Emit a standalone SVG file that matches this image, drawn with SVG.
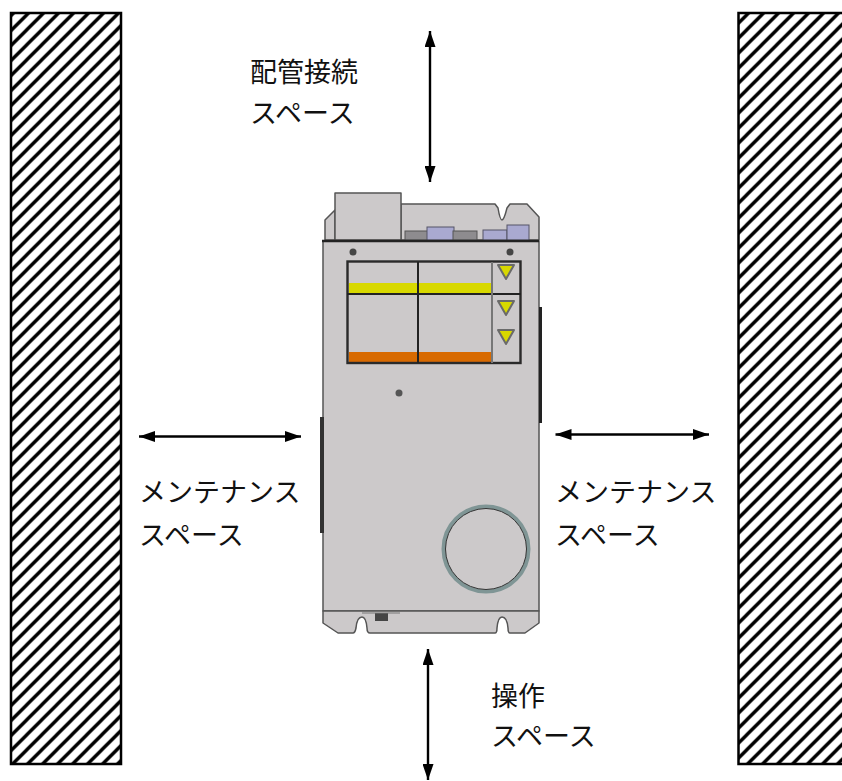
<svg xmlns="http://www.w3.org/2000/svg" width="842" height="781" viewBox="0 0 842 781">
<style>
.t{font-family:"Noto Sans CJK JP","Liberation Sans",sans-serif;font-size:27px;fill:#111}
.c{fill:none;stroke:#000;stroke-width:2.4}
.e{fill:#ccc9ca;stroke:#555;stroke-width:1.5;stroke-linejoin:round}
.k{fill:none;stroke:#2a2a2a;stroke-width:2.4}
.y{fill:#d8d800;stroke:#6a6a6a;stroke-width:2;stroke-linejoin:round}
.g{fill:#8e8c8f;stroke:#555}
.b{fill:#a9a9d0;stroke:#556}
</style>
<defs>
<pattern id="h" width="15" height="15" patternUnits="userSpaceOnUse" patternTransform="translate(11.600 0)">
<path d="M-4 4L4-4M-4 19L19-4M11 19L19 11" stroke="#000" stroke-width="3.400"/>
</pattern>
<filter id="s" x="-2%" y="-2%" width="104%" height="104%"><feGaussianBlur stdDeviation="0.700"/></filter>
<marker id="a" markerWidth="16" markerHeight="11" refX="16" refY="5.500" orient="auto-start-reverse" markerUnits="userSpaceOnUse" viewBox="0 0 16 11"><path d="M0 0L16 5.500L0 11Z" fill="#000"/></marker>
</defs>
<rect width="842" height="781" fill="#fff"/>
<g id="wall-left"><rect x="11" y="13" width="110" height="751" fill="url(#h)" filter="url(#s)"/><rect x="11" y="13" width="110" height="751" fill="none" stroke="#000" stroke-width="2.500"/></g>
<g id="wall-right"><rect x="738.500" y="13" width="110" height="751" fill="url(#h)" filter="url(#s)"/><rect x="738.500" y="13" width="110" height="751" fill="none" stroke="#000" stroke-width="2.500"/></g>
<g id="unit" filter="url(#s)">
<path d="M335 240V210L325 220V240ZM401 204H495L498 208Q500 220 502 220Q504 220 507 208L510 204H527L539 217V240H401Z" class="e"/>
<rect x="335" y="193" width="66" height="47" class="e"/>
<rect x="405" y="231" width="25" height="9" class="g"/>
<rect x="427" y="227" width="27" height="13" class="b"/>
<rect x="453" y="231" width="24" height="9" class="g"/>
<rect x="483" y="230" width="24" height="10" class="b"/>
<rect x="507" y="225" width="22" height="15" class="b"/>
<path d="M323 241H539V611H323Z" class="e"/>
<path d="M323 611H539V623L525 633H510Q508 633 508 628Q507 617 502 617Q498 617 497 628Q497 633 495 633H370Q367 633 367 628Q366 617 362 617Q357 617 356 628Q355 633 353 633H338L323 623Z" class="e"/>
<path d="M322 241H539" stroke="#222" stroke-width="2.500"/>
<path d="M322 417V533" stroke="#333" stroke-width="4"/>
<path d="M540.500 307V423" stroke="#222" stroke-width="3"/>
<circle cx="353" cy="252" r="3.500" fill="#444"/><circle cx="510" cy="252" r="3.500" fill="#444"/><circle cx="399" cy="393" r="3.500" fill="#555"/>
<rect x="375" y="613" width="13" height="8" fill="#444"/>
<path d="M362 613H400" stroke="#777"/>
<rect x="349" y="283" width="143" height="10" fill="#d8d800"/>
<rect x="349" y="352" width="143" height="10.500" fill="#d86a00"/>
<rect x="347.500" y="261.500" width="173" height="101.500" class="k"/>
<path d="M347 294H521M418 262V363" stroke="#222" stroke-width="2"/>
<path d="M492 262V363" stroke="#777" stroke-width="2"/>
<path d="M498 265H514L506 279Z M498 301H514L506 315Z M498 330H514L506 344Z" class="y"/>
<circle cx="486" cy="549" r="42.500" fill="none" stroke="#7f9595" stroke-width="4"/>
<circle cx="486" cy="549" r="40.500" fill="none" stroke="#333" stroke-width="1"/>
</g>
<g id="connectors">
<path d="M430 31V182" class="c" marker-start="url(#a)" marker-end="url(#a)"/>
<path d="M139 436.500H301" class="c" marker-start="url(#a)" marker-end="url(#a)"/>
<path d="M555.500 434.500H709" class="c" marker-start="url(#a)" marker-end="url(#a)"/>
<path d="M428 649V780" class="c" marker-start="url(#a)" marker-end="url(#a)"/>
</g>
<g id="labels">
<text class="t" x="250" y="82">配管接続</text>
<text class="t" x="250" y="123">スペース</text>
<text class="t" x="139" y="502">メンテナンス</text>
<text class="t" x="139" y="545">スペース</text>
<text class="t" x="555" y="502">メンテナンス</text>
<text class="t" x="555" y="545">スペース</text>
<text class="t" x="491" y="706">操作</text>
<text class="t" x="491" y="746">スペース</text>
</g>
</svg>
